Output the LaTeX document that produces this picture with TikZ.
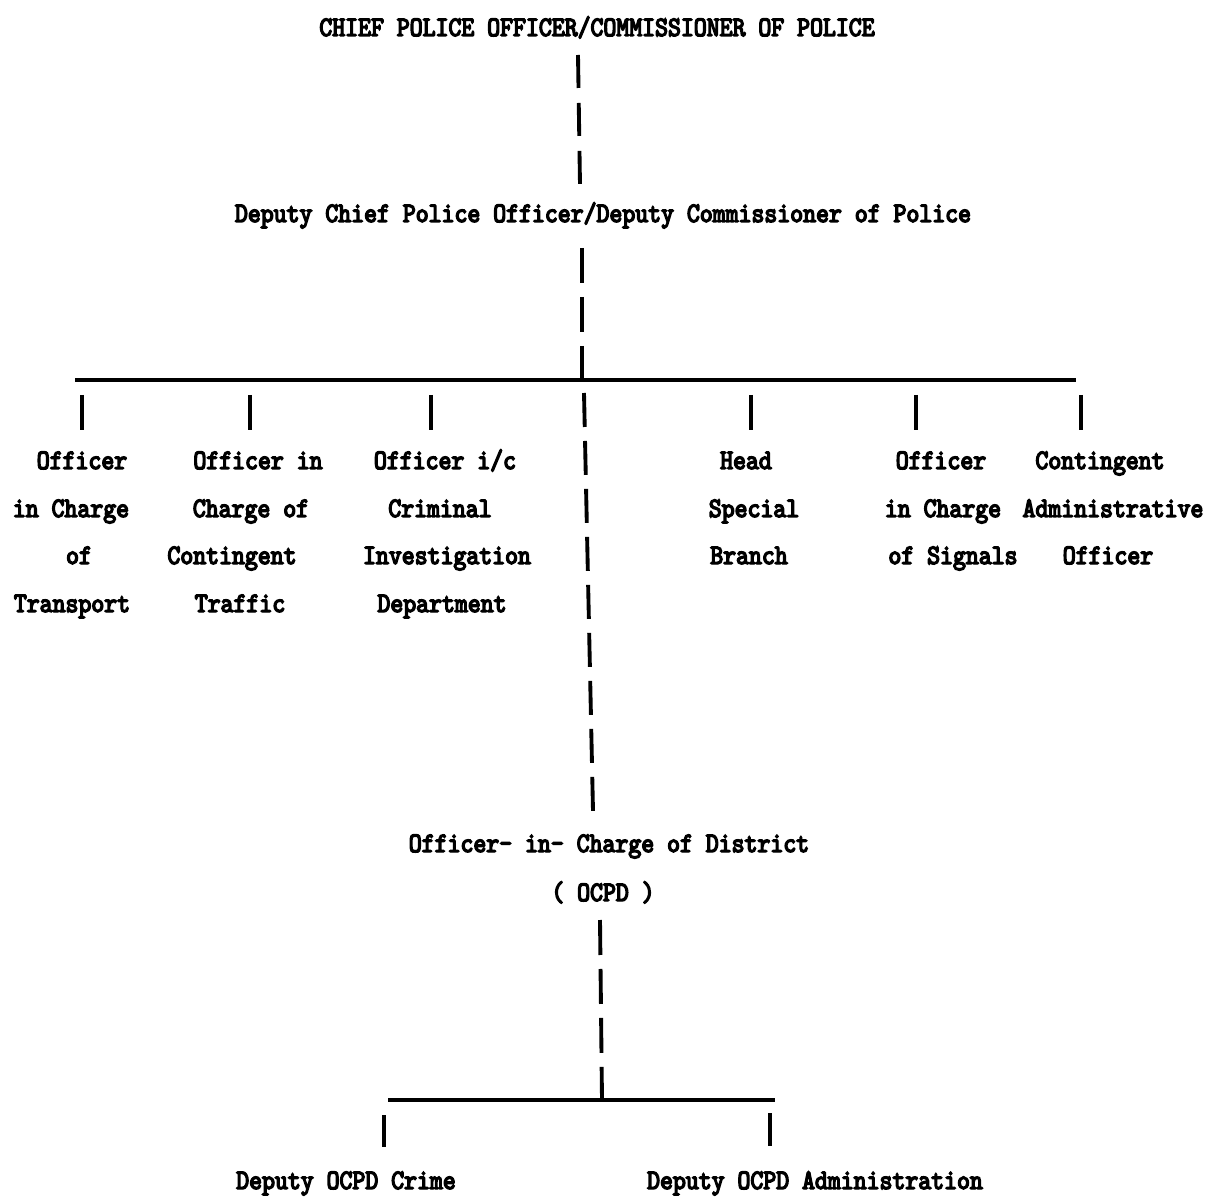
\documentclass[tikz,border=0pt]{standalone}
\usepackage{fontspec}
% heavy, slightly condensed typewriter face: Latin Modern Mono, emboldened
\newfontfamily\typed{lmmono10-regular.otf}[FakeBold=5,FakeStretch=0.875]
\begin{document}
\begin{tikzpicture}[x=0.02cm,y=-0.02cm,
  lbl/.style={font=\typed\fontsize{16}{19}\selectfont, inner sep=0pt, anchor=base},
  bar/.style={line width=2pt},
  tick/.style={line width=2.2pt},
  linkA/.style={line width=2.2pt, dash pattern=on 0.66cm off 0.3cm},
  linkB/.style={line width=2.2pt, dash pattern=on 0.7cm off 0.28cm},
  linkC/.style={line width=2.2pt, dash pattern=on 0.68cm off 0.28cm}]
\useasboundingbox (0,0) rectangle (1214,1199);

% top of the chain
\node[lbl] (chief)  at (597,36)  {CHIEF POLICE OFFICER/COMMISSIONER OF POLICE};
\node[lbl] (deputy) at (603,222) {Deputy Chief Police Officer/Deputy Commissioner of Police};

% branch heads, one node per typed line
\node[lbl] (tA1) at (82,469)  {Officer};
\node[lbl] (tA2) at (71,517)  {in Charge};
\node[lbl] (tA3) at (79,564)  {of};
\node[lbl] (tA4) at (72,612)  {Transport};

\node[lbl] (tB1) at (258,469) {Officer in};
\node[lbl] (tB2) at (251,517) {Charge of};
\node[lbl] (tB3) at (232,564) {Contingent};
\node[lbl] (tB4) at (240,612) {Traffic};

\node[lbl] (tC1) at (445,469) {Officer i/c};
\node[lbl] (tC2) at (440,517) {Criminal};
\node[lbl] (tC3) at (447,564) {Investigation};
\node[lbl] (tC4) at (442,612) {Department};

\node[lbl] (tD1) at (746,469) {Head};
\node[lbl] (tD2) at (754,517) {Special};
\node[lbl] (tD3) at (749,564) {Branch};

\node[lbl] (tE1) at (941,469) {Officer};
\node[lbl] (tE2) at (943,517) {in Charge};
\node[lbl] (tE3) at (953,564) {of Signals};

\node[lbl] (tF1) at (1100,469) {Contingent};
\node[lbl] (tF2) at (1113,517) {Administrative};
\node[lbl] (tF3) at (1108,564) {Officer};

% district level
\node[lbl] (ocpd)  at (609,852) {Officer- in- Charge of District};
\node[lbl] (ocpdb) at (603,901) {( OCPD )};
\node[lbl] (crime) at (346,1189) {Deputy OCPD Crime};
\node[lbl] (admin) at (815,1189) {Deputy OCPD Administration};

% connector end points
\coordinate (chiefdn) at (578,55);
\coordinate (depup)   at (580,185);
\coordinate (depdn)   at (582,248);
\coordinate (barA)    at (582,380);
\coordinate (barAl)   at (75,380);
\coordinate (barAr)   at (1076,380);
\coordinate (mainup)  at (584,393);
\coordinate (maindn)  at (593,811);
\coordinate (ocpddn)  at (600,920);
\coordinate (barB)    at (602,1100);
\coordinate (barBl)   at (388,1100);
\coordinate (barBr)   at (775,1100);
\foreach \n/\x in {A/82,B/250,C/431,D/751,E/916,F/1081}{
  \coordinate (k\n u) at (\x,395);
  \coordinate (k\n d) at (\x,430);
}
\coordinate (kGu) at (384,1115);
\coordinate (kGd) at (384,1147);
\coordinate (kHu) at (770,1113);
\coordinate (kHd) at (770,1146);

% connectors
\draw[linkA] (chiefdn) -- (depup);
\draw[linkB] (depdn) -- (barA);
\draw[bar] (barAl) -- (barAr);
\foreach \n in {A,B,C,D,E,F}{ \draw[tick] (k\n u) -- (k\n d); }
\draw[linkC] (mainup) -- (maindn);
\draw[linkB] (ocpddn) -- (barB);
\draw[bar] (barBl) -- (barBr);
\draw[tick] (kGu) -- (kGd);
\draw[tick] (kHu) -- (kHd);
\end{tikzpicture}
\end{document}
